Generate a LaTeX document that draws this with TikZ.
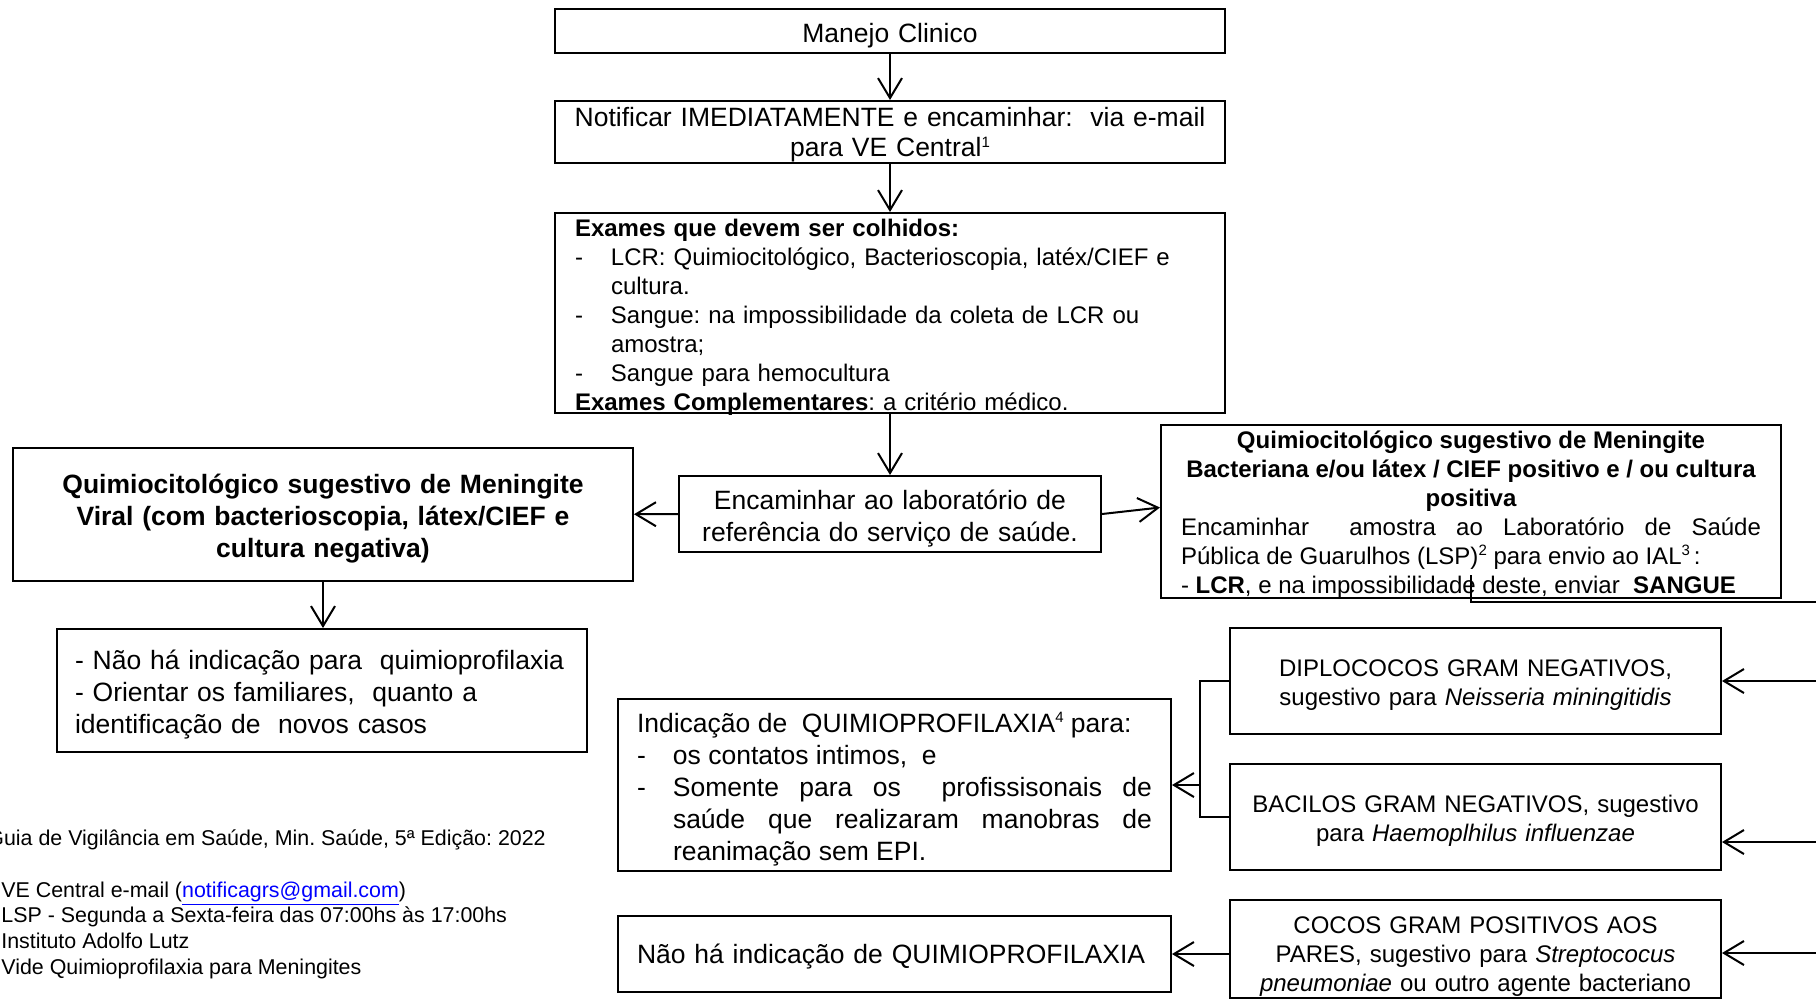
\documentclass[tikz,border=0pt]{standalone}
\usepackage{fontspec}
\setmainfont{Liberation Sans}
\usepackage{xcolor}
\usetikzlibrary{arrows.meta,positioning,calc}
\definecolor{linkblue}{RGB}{0,0,255}
\newcommand{\fbig}{\fontsize{13.25pt}{16pt}\selectfont}
\newcommand{\fmed}{\fontsize{12pt}{14.5pt}\selectfont}
\newcommand{\fsml}{\fontsize{10.7pt}{13pt}\selectfont}
\newcommand{\itemdash}{\makebox[18pt][l]{-}}
\newcommand{\supnum}[1]{\raisebox{0.36em}{\fontsize{7.5pt}{7.5pt}\selectfont #1}}
\tikzset{
  box/.style    ={rectangle, draw=black, line width=1pt, align=center,
                  inner xsep=8pt, inner ysep=0pt, font=\fbig},
  medbox/.style ={box, font=\fmed},
  firstline/.style 2 args={minimum height=#2, text height=#1, text depth=#2-#1},
  flow/.style   ={-{Straight Barb[length=10pt,width=12pt]}, line width=1pt},
  link/.style   ={line width=1pt},
  note/.style   ={anchor=base west, inner sep=0pt, font=\fsml},
}
\begin{document}
\frenchspacing
\begin{tikzpicture}[x=0.5pt, y=-0.5pt]
    \useasboundingbox (0,0) rectangle (1816,1003);
    % nodes
    \node[box, text width=319pt, firstline={16.5pt}{22pt}] (manejo) at (890,31) {Manejo Clinico};
    \node[box, text width=319pt, firstline={12.8pt}{31pt}, font=\fontsize{13.25pt}{15pt}\selectfont] (notif) at (890,132)
      {Notificar IMEDIATAMENTE e encaminhar:\ \ via e-mail\\para VE Central\supnum{1}};
    \node[medbox, align=left, text width=315pt, inner xsep=10pt, firstline={11.9pt}{100pt}] (exames) at (890,313)
      {\textbf{Exames que devem ser colhidos:}\\
       \itemdash LCR: Quimiocitológico, Bacterioscopia, latéx/CIEF e\\
       \hspace*{18pt}cultura.\\
       \itemdash Sangue: na impossibilidade da coleta de LCR ou\\
       \hspace*{18pt}amostra;\\
       \itemdash Sangue para hemocultura\\
       \textbf{Exames Complementares}: a critério médico.};
    \node[box, text width=195pt, firstline={16.9pt}{38pt}] (lab) at (890,514)
      {Encaminhar ao laboratório de\\referência do serviço de saúde.};
    \node[box, font=\fbig\bfseries, text width=294pt, firstline={22.8pt}{66.5pt}] (viral) at (323,514.5)
      {Quimiocitológico sugestivo de Meningite\\Viral (com bacterioscopia, látex/CIEF e\\cultura negativa)};
    \node[medbox, align=justify, text width=290pt, inner xsep=10pt, firstline={11.8pt}{86.5pt}] (bact) at (1471,511.5)
      {{\centering\bfseries Quimiocitológico sugestivo de Meningite\\
        Bacteriana e/ou látex / CIEF positivo e / ou cultura\\ positiva\par}
       Encaminhar\ \ amostra ao Laboratório de Saúde\linebreak
       Pública de Guarulhos (LSP)\supnum{2} para envio ao IAL\supnum{3}\,:\\
       - \textbf{LCR}, e na impossibilidade deste, enviar\ \ \textbf{SANGUE}};
    \node[box, align=left, text width=247pt, inner xsep=9pt, firstline={20.3pt}{61.5pt}] (leftno) at (322,690.5)
      {- Não há indicação para\ \ quimioprofilaxia\\
       - Orientar os familiares,\ \ quanto a\\
       identificação de\ \ novos casos};
    \node[box, align=justify, text width=257.5pt, inner xsep=9.5pt, firstline={16.5pt}{86pt}] (indic) at (894.5,785)
      {Indicação de\ \ QUIMIOPROFILAXIA\supnum{4} para:\\
       \itemdash os contatos intimos,\ \ e\\
       \itemdash\parbox[t]{239.5pt}{Somente para os\ \ profissisonais de\linebreak
         saúde que realizaram manobras de\linebreak reanimação sem EPI.}};
    \node[box, align=left, text width=257.5pt, inner xsep=9.5pt, firstline={23.8pt}{38pt}] (nohaq) at (894.5,954)
      {Não há indicação de QUIMIOPROFILAXIA};
    \node[medbox, text width=229.5pt, firstline={24.4pt}{53pt}] (diplo) at (1475.5,681)
      {DIPLOCOCOS GRAM NEGATIVOS,\\sugestivo para \textit{Neisseria miningitidis}};
    \node[medbox, text width=229.5pt, firstline={24.1pt}{53pt}] (bacil) at (1475.5,817)
      {BACILOS GRAM NEGATIVOS, sugestivo\\para \textit{Haemoplhilus influenzae}};
    \node[medbox, text width=229.5pt, firstline={16.9pt}{49pt}] (cocos) at (1475.5,949)
      {COCOS GRAM POSITIVOS AOS\\PARES, sugestivo para \textit{Streptococus}\\
       \textit{pneumoniae} ou outro agente bacteriano};

    % bus ends beyond the right edge
    \coordinate (rbus1) at (1830,602);
    \coordinate (rbus2) at (1830,681);
    \coordinate (rbus3) at (1830,842);
    \coordinate (rbus4) at (1830,953);

    % flows
    \draw[flow] (manejo) -- (notif);
    \draw[flow] (notif) -- (exames);
    \draw[flow] (exames) -- (lab);
    \draw[flow] (lab) -- (viral);
    \draw[flow] (lab.east) -- ([yshift=2pt]bact.west);
    \draw[flow] (viral.south) -- (viral.south |- leftno.north);
    \draw[link] ([yshift=12pt]bact.south) |- (rbus1);
    \draw[flow] (rbus2) -- (diplo.east);
    \draw[flow] (rbus3) -- (bacil.east |- rbus3);
    \draw[flow] (rbus4) -- (cocos.east |- rbus4);
    \draw[link] (diplo.west) -- ++(-29,0) coordinate (brk) |- (bacil.west);
    \draw[flow] (brk |- indic.east) -- (indic.east);
    \draw[flow] (cocos.west |- nohaq.east) -- (nohaq.east);

    % footnotes
    \node[note] (fn0) at (-13,845) {Guia de Vigilância em Saúde, Min. Saúde, 5ª Edição: 2022};
    \foreach \y/\txt [count=\i] in {897/{VE Central e-mail (\textcolor{linkblue}{\underline{notificagrs@gmail.com}})},
        922/{LSP - Segunda a Sexta-feira das 07:00hs às 17:00hs},
        948/{Instituto Adolfo Lutz},
        974/{Vide Quimioprofilaxia para Meningites}}
      \node[note] (fn\i) at (1,\y) {\txt};
\end{tikzpicture}
\end{document}
